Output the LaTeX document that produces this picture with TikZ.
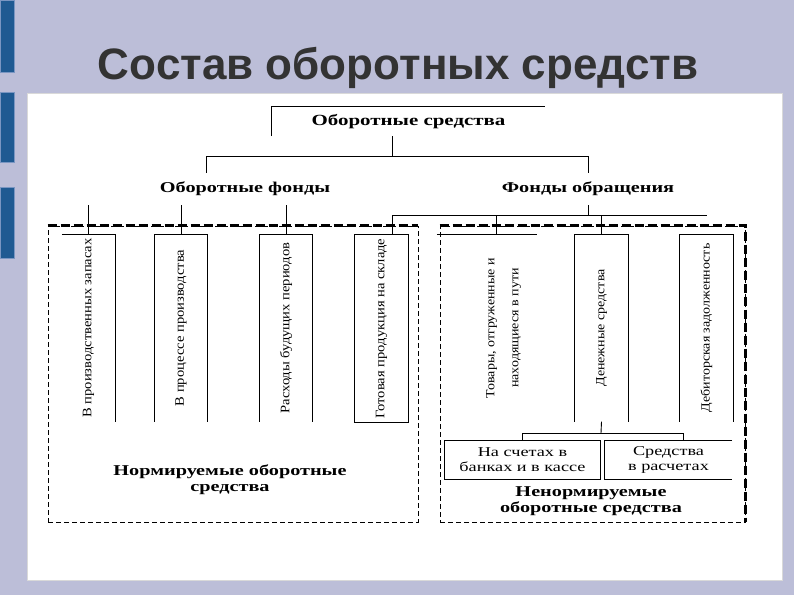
\documentclass[tikz,border=0pt]{standalone}
\usepackage{fontspec}
\setmainfont{Liberation Serif}
\newfontfamily\titlefont{Liberation Sans}
\newfontfamily\wideserif[FakeStretch=1.35]{Liberation Serif}
\newfontfamily\vertserif[FakeStretch=1.12]{Liberation Serif}
\usetikzlibrary{calc}

\definecolor{slidebg}{HTML}{BCBED8}
\definecolor{barblue}{HTML}{1F5A92}
\definecolor{barrim}{HTML}{7A96C2}
\definecolor{titlegray}{HTML}{333333}

\begin{document}
\begin{tikzpicture}[
    x=1pt, y=-1pt,
    line/.style={draw, line width=0.9pt},
    toplvl/.style={font=\wideserif\bfseries\fontsize{15.5}{19}\selectfont, minimum width=273pt, minimum height=29pt, inner sep=0pt},
    midlvl/.style={font=\wideserif\bfseries\fontsize{15}{18}\selectfont, minimum height=32pt, inner sep=0pt},
    vbox/.style={minimum width=53pt, minimum height=187pt, inner sep=0pt, font=\vertserif\fontsize{13}{15}\selectfont},
    subbox/.style={minimum height=38pt, align=center, inner sep=0pt, font=\wideserif\fontsize{13.5}{15}\selectfont},
    grouplabel/.style={align=center, font=\wideserif\bfseries\fontsize{15}{16}\selectfont},
    groupbox/.style={draw, line width=0.9pt, dash pattern=on 5pt off 3pt, inner sep=0pt},
    topdash/.style={line width=2.2pt, dash pattern=on 9pt off 4pt}
]

    % Slide
    \useasboundingbox (0,0) rectangle (794,595);
    \fill[slidebg] (0,0) rectangle (794,595);
    \fill[white, draw=black!15] (27,93) rectangle (782,580);
    \foreach \ya/\yb in {0/72, 92/162, 187/258}
        \draw[fill=barblue, draw=barrim, line width=1pt] (0,\ya) rectangle (14,\yb);
    \node[anchor=base, text=titlegray, font=\titlefont\bfseries\fontsize{44}{50}\selectfont] (title) at (398,79) {Состав оборотных средств};

    % Groups
    \node[groupbox, minimum width=370pt, minimum height=296pt] (norm) at (233,374) {};
    \node[groupbox, minimum width=305pt, minimum height=296pt] (nenorm) at (592.5,374) {};
    \draw[topdash] (norm.north west) -- (norm.north east);
    \draw[topdash] (nenorm.north west) -- (nenorm.north east) -- (nenorm.south east);

    % Nodes
    \node[toplvl] (os) at (408.5,121.5) {Оборотные средства};
    \node[midlvl] (of) at (245,189) {Оборотные фонды};
    \node[midlvl] (fo) at (588,189) {Фонды обращения};

    \node[vbox] (b1) at (88.5,328) {\rotatebox{90}{В производственных запасах}};
    \node[vbox] (b2) at (181,328) {\rotatebox{90}{В процессе производства}};
    \node[vbox] (b3) at (286,328) {\rotatebox{90}{Расходы будущих периодов}};
    \node[vbox] (b4) at (381.5,328.5) {\rotatebox{90}{Готовая продукция на складе}};
    \node[vbox, minimum width=67pt, font=\vertserif\fontsize{12.5}{14}\selectfont] (b5) at (503.5,328)
        {\rotatebox{90}{\begin{tabular}{@{}c@{}}Товары, отгруженные и\\[10pt]находящиеся в пути\end{tabular}}};
    \node[vbox, font=\vertserif\fontsize{12.5}{14}\selectfont] (b6) at (601.5,328) {\rotatebox{90}{Денежные средства}};
    \node[vbox, font=\vertserif\fontsize{12.5}{14}\selectfont] (b7) at (706.5,328) {\rotatebox{90}{Дебиторская задолженность}};

    \node[subbox, minimum width=155pt] (s1) at (522.5,460) {На счетах в\\банках и в кассе};
    \node[subbox, minimum width=127pt] (s2) at (668.5,460) {Средства\\в расчетах};

    \node[grouplabel] (normlbl) at (230,480) {Нормируемые оборотные\\средства};
    \node[grouplabel] (nenormlbl) at (591,501) {Ненормируемые\\оборотные средства};

    % Box outlines
    \draw[line] (os.south west) -- (os.north west) -- (os.north east);
    \draw[line] (b1.north west) -- (b1.north east) -- (b1.south east);
    \foreach \b in {b2, b3, b6, b7}
        \draw[line] (\b.south west) -- (\b.north west) -- (\b.north east) -- (\b.south east);
    \draw[line] (b4.south west) rectangle (b4.north east);
    \draw[line] ($(b5.north west)+(-33,0)$) -- (b5.north east);
    \draw[line] (s1.south west) rectangle (s1.north east);
    \draw[line] (s2.north east) -- (s2.north west) -- (s2.south west) -- (s2.south east);

    % Connections
    \coordinate (bus1) at (392,156);
    \coordinate (ofc) at (206,156);
    \coordinate (foc) at (588,156);
    \draw[line] (bus1 |- os.south) -- (bus1);
    \draw[line] (ofc |- of.north) -- (ofc) -- (foc) -- (foc |- fo.north);

    \foreach \b in {b1, b2, b3}
        \draw[line] (\b.north |- of.south) -- (\b.north);

    \coordinate (bus2) at (392,215);
    \coordinate (c5) at (496,215);
    \draw[line] (b4.north -| bus2) -- (bus2) -- (bus2 -| b7.north);
    \draw[line] (fo.south) -- (fo.south |- bus2);
    \draw[line] (c5) -- (c5 |- b5.north);
    \draw[line] (bus2 -| b6.north) -- (b6.north);

    \coordinate (bus3) at (601,433);
    \coordinate (bus3r) at (683,433);
    \draw[line] (b6.south) -- (bus3);
    \draw[line] (s1.north) -- (s1.north |- bus3) -- (bus3r) -- (bus3r |- s2.north);

\end{tikzpicture}
\end{document}
